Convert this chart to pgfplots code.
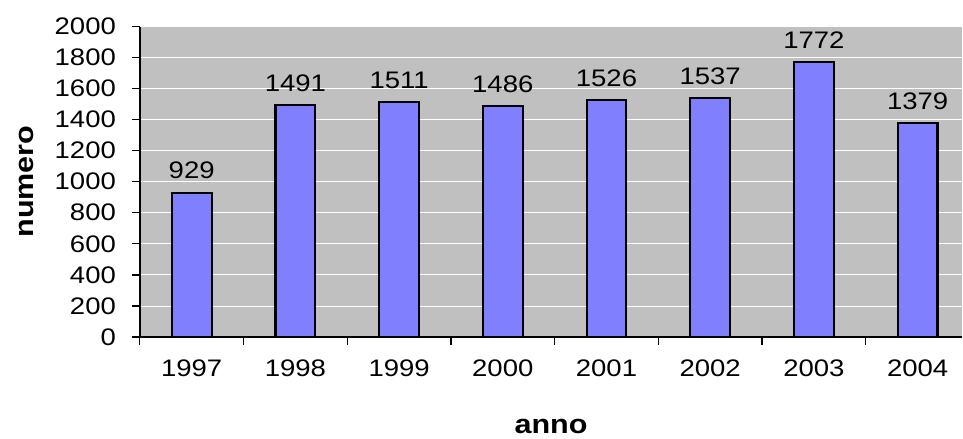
\documentclass[border={11pt 0pt 0pt 10pt}]{standalone}
\usepackage{pgfplots}
\pgfplotsset{compat=1.18}
\usepackage{fontspec}
\setmainfont{Liberation Sans}[FakeStretch=1.15]
\definecolor{bg}{RGB}{192,192,192}
\definecolor{barc}{RGB}{128,128,255}
\begin{document}
\begin{tikzpicture}
\begin{axis}[
  scale only axis,
  width=619pt, height=234pt,
  ybar, bar width=30pt,
  xmin=-0.5, xmax=7.43, ymin=0, ymax=2000,
  xtick={0,...,7},
  xticklabels={1997,1998,1999,2000,2001,2002,2003,2004},
  minor xtick={-0.5,0.5,...,7.5},
  major x tick style={draw=none},
  ytick={0,200,...,2000},
  ymajorgrids,
  major grid style={white, line width=0.7pt},
  extra y ticks={2000},
  extra y tick labels={},
  extra y tick style={grid style={gray, line width=1pt}, major tick length=0pt},
  tick align=outside,
  tick pos=left,
  major tick length=6pt, minor tick length=6pt,
  tick style={black, line width=1pt},
  axis background/.style={fill=bg},
  axis line style={black, line width=1.2pt},
  axis x line*=bottom, axis y line*=left,
  tick label style={font=\fontsize{18}{21}\selectfont},
  /pgf/number format/assume math mode=true,
  /pgf/number format/1000 sep={},
  xticklabel style={yshift=-7.5pt},
  yticklabel style={xshift=-8.5pt},
  xlabel={\textbf{anno}}, ylabel={\textbf{numero}},
  label style={font=\fontsize{20}{24}\selectfont},
  xlabel style={yshift=-25.5pt},
  ylabel style={yshift=3pt},
  nodes near coords,
  every node near coord/.append style={font=\fontsize{18}{21}\selectfont, yshift=6pt},
]
\addplot[fill=barc, draw=black, line width=1.6pt] coordinates {
  (0,929) (1,1491) (2,1511) (3,1486) (4,1526) (5,1537) (6,1772) (7,1379)
};
\end{axis}
\end{tikzpicture}
\end{document}
